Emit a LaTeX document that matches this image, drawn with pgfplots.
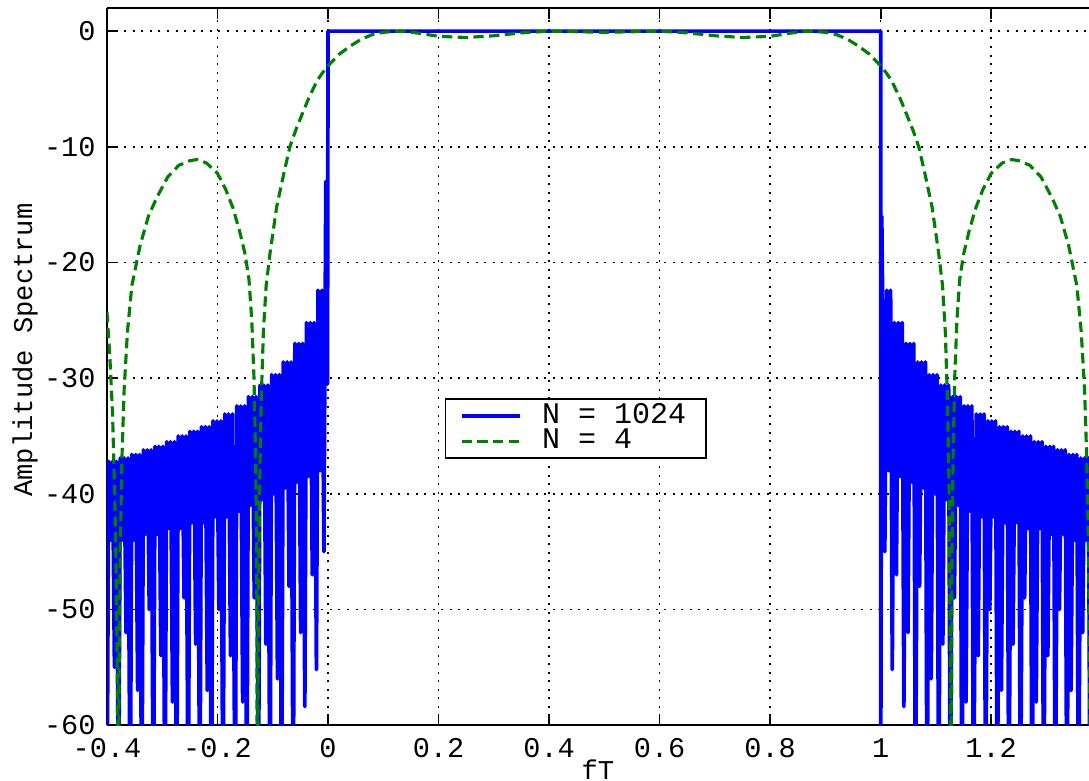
\documentclass[border=0pt]{standalone}
\usepackage{fontspec}
\setmainfont{Liberation Mono}
\usepackage{pgfplots}
\pgfplotsset{compat=1.18}
\definecolor{mblue}{rgb}{0,0,1}
\definecolor{mgreen}{rgb}{0,0.5,0}
\begin{document}
\begin{tikzpicture}
\begin{axis}[
  at={(0,0)}, anchor=south west,
  scale only axis,
  width=343.7pt, height=251pt,
  xmin=-0.4, xmax=1.377,
  ymin=-60, ymax=2,
  axis x line*=box, axis y line*=left,
  axis line style={black, line width=0.8pt},
  xtick={-0.4,-0.2,0,0.2,0.4,0.6,0.8,1,1.2},
  ytick={-60,-50,-40,-30,-20,-10,0},
  major tick length=3.8pt,
  tick style={black, line width=0.6pt},
  tick align=inside,
  grid=major,
  major grid style={black, line width=0.5pt, dash pattern=on 0.7pt off 2.3pt},
  /pgf/number format/assume math mode=true,
  ticklabel style={font=\fontsize{10}{12}\selectfont},
  xticklabel style={yshift=-1.2pt},
  yticklabel style={xshift=-0.5pt},
  xlabel={fT},
  ylabel={Amplitude Spectrum},
  xlabel style={at={(axis description cs:0.5,-0.047)}, anchor=north, inner sep=0pt, font=\fontsize{9.5}{11}\selectfont},
  ylabel style={at={(axis description cs:-0.0835,0.523)}, anchor=center, font=\fontsize{9.5}{11}\selectfont},
  legend style={at={(rel axis cs:0.344,0.456)}, anchor=north west, draw=black, line width=0.5pt,
    font=\fontsize{10.5}{11}\selectfont, inner xsep=5pt, inner ysep=1.5pt, row sep=0pt,
    column sep=5pt, nodes={inner ysep=0.2pt}},
  legend cell align=left,
  legend image code/.code={\draw[#1] (0cm,0cm) -- (0.72cm,0cm);},
]
% N = 1024
\addplot[mblue, line width=1.3pt, line join=round] coordinates {
(-0.400,-70) (-0.397,-37.2) (-0.3935,-44) (-0.390,-37.2) (-0.3865,-55) (-0.383,-37.2)
(-0.379,-70) (-0.376,-36.9) (-0.3725,-44) (-0.369,-36.9) (-0.3655,-52) (-0.362,-36.9)
(-0.358,-70) (-0.355,-36.6) (-0.3515,-44) (-0.348,-36.6) (-0.3445,-57) (-0.341,-36.6)
(-0.337,-70) (-0.334,-36.2) (-0.3305,-43.5) (-0.327,-36.2) (-0.3235,-50) (-0.320,-36.2)
(-0.316,-70) (-0.313,-35.9) (-0.3095,-43.5) (-0.306,-35.9) (-0.3025,-54) (-0.299,-35.9)
(-0.295,-70) (-0.292,-35.5) (-0.2885,-43) (-0.285,-35.5) (-0.2815,-58) (-0.278,-35.5)
(-0.274,-70) (-0.271,-35.0) (-0.2675,-43) (-0.264,-35.0) (-0.2605,-49) (-0.257,-35.0)
(-0.253,-70) (-0.250,-34.6) (-0.2465,-42.5) (-0.243,-34.6) (-0.2395,-53) (-0.236,-34.6)
(-0.232,-70) (-0.229,-34.2) (-0.2255,-42.5) (-0.222,-34.2) (-0.2185,-57) (-0.215,-34.2)
(-0.211,-70) (-0.208,-33.7) (-0.2045,-42) (-0.201,-33.7) (-0.1975,-50) (-0.194,-33.7)
(-0.190,-70) (-0.187,-33.1) (-0.1835,-42) (-0.180,-33.1) (-0.1765,-54) (-0.173,-33.1)
(-0.168,-70) (-0.165,-32.4) (-0.1615,-41.5) (-0.158,-32.4) (-0.1545,-58) (-0.151,-32.4)
(-0.147,-70) (-0.144,-31.6) (-0.1405,-41) (-0.137,-31.6) (-0.1335,-49) (-0.130,-31.6)
(-0.126,-70) (-0.123,-30.6) (-0.1195,-40.5) (-0.116,-30.6) (-0.1125,-53) (-0.109,-30.6)
(-0.105,-70) (-0.102,-29.7) (-0.0985,-40) (-0.095,-29.7) (-0.0915,-56) (-0.088,-29.7)
(-0.084,-70) (-0.081,-28.6) (-0.0775,-39.5) (-0.074,-28.6) (-0.0705,-48) (-0.067,-28.6)
(-0.063,-70) (-0.060,-27.0) (-0.0565,-39) (-0.053,-27.0) (-0.0495,-52) (-0.046,-27.0)
(-0.042,-58.4) (-0.039,-25.2) (-0.0355,-38.5) (-0.032,-25.2) (-0.0285,-47) (-0.025,-25.2)
(-0.021,-55.2) (-0.018,-22.4) (-0.0145,-38) (-0.011,-22.4) (-0.0075,-45) (-0.005,-22)
(-0.004,-13) (-0.0025,-24) (-0.001,-30.5) (0,0)
(1,0) (1,-70) (1.002,-16) (1.004,-25) (1.0075,-45) (1.011,-22.4) (1.0145,-38) (1.018,-22.4) (1.021,-55.2)
(1.025,-25.2) (1.0285,-47) (1.032,-25.2) (1.0355,-38.5) (1.039,-25.2) (1.042,-58.4)
(1.046,-27.0) (1.0495,-52) (1.053,-27.0) (1.0565,-39) (1.060,-27.0) (1.063,-70)
(1.067,-28.6) (1.0705,-48) (1.074,-28.6) (1.0775,-39.5) (1.081,-28.6) (1.084,-70)
(1.088,-29.7) (1.0915,-56) (1.095,-29.7) (1.0985,-40) (1.102,-29.7) (1.105,-70)
(1.109,-30.6) (1.1125,-53) (1.116,-30.6) (1.1195,-40.5) (1.123,-30.6) (1.126,-70)
(1.130,-31.6) (1.1335,-49) (1.137,-31.6) (1.1405,-41) (1.144,-31.6) (1.147,-70)
(1.151,-32.4) (1.1545,-58) (1.158,-32.4) (1.1615,-41.5) (1.165,-32.4) (1.168,-70)
(1.173,-33.1) (1.1765,-54) (1.180,-33.1) (1.1835,-42) (1.187,-33.1) (1.190,-70)
(1.194,-33.7) (1.1975,-50) (1.201,-33.7) (1.2045,-42) (1.208,-33.7) (1.211,-70)
(1.215,-34.2) (1.2185,-57) (1.222,-34.2) (1.2255,-42.5) (1.229,-34.2) (1.232,-70)
(1.236,-34.6) (1.2395,-53) (1.243,-34.6) (1.2465,-42.5) (1.250,-34.6) (1.253,-70)
(1.257,-35.0) (1.2605,-49) (1.264,-35.0) (1.2675,-43) (1.271,-35.0) (1.274,-70)
(1.278,-35.5) (1.2815,-58) (1.285,-35.5) (1.2885,-43) (1.292,-35.5) (1.295,-70)
(1.299,-35.9) (1.3025,-54) (1.306,-35.9) (1.3095,-43.5) (1.313,-35.9) (1.316,-70)
(1.320,-36.2) (1.3235,-50) (1.327,-36.2) (1.3305,-43.5) (1.334,-36.2) (1.337,-70)
(1.341,-36.6) (1.3445,-57) (1.348,-36.6) (1.3515,-44) (1.355,-36.6) (1.358,-70)
(1.362,-36.9) (1.3655,-52) (1.369,-36.9) (1.3725,-44) (1.376,-36.9) (1.379,-70)
(1.383,-37.2) (1.3865,-55)
};
% N = 4
\addplot[mgreen, line width=1.1pt, dash pattern=on 3.6pt off 1.9pt] coordinates {
(-0.400,-24.3) (-0.395,-28) (-0.390,-33) (-0.386,-40) (-0.383,-48) (-0.381,-58) (-0.380,-70)
(-0.378,-55) (-0.376,-45) (-0.373,-37) (-0.369,-31) (-0.363,-26) (-0.355,-22) (-0.34,-18.5)
(-0.325,-16) (-0.31,-14.4) (-0.29,-12.6) (-0.27,-11.6) (-0.25,-11.2) (-0.237,-11.1) (-0.22,-11.4)
(-0.2,-12.3) (-0.185,-13.7) (-0.172,-15.3) (-0.16,-17.3) (-0.15,-19.3) (-0.143,-21.5) (-0.138,-25)
(-0.134,-30) (-0.131,-37) (-0.129,-46) (-0.128,-70) (-0.126,-52) (-0.124,-40) (-0.121,-32)
(-0.117,-26) (-0.112,-22) (-0.105,-19.2) (-0.093,-15.2) (-0.08,-12.3) (-0.069,-10) (-0.058,-8.5)
(-0.047,-7.2) (-0.035,-5.8) (-0.02,-4.3) (-0.01,-3.6) (0,-3.0) (0.02,-2.0) (0.04,-1.3) (0.06,-0.7)
(0.08,-0.3) (0.10,-0.1) (0.13,0) (0.16,-0.15) (0.2,-0.45) (0.25,-0.55) (0.3,-0.4) (0.35,-0.15)
(0.4,0) (0.45,-0.05) (0.5,-0.1) (0.55,-0.05) (0.6,0) (0.65,-0.15) (0.7,-0.4) (0.75,-0.55)
(0.8,-0.45) (0.84,-0.15) (0.87,0) (0.9,-0.1) (0.92,-0.3) (0.94,-0.7) (0.96,-1.3) (0.98,-2.0)
(1.0,-3.0) (1.01,-3.6) (1.02,-4.3) (1.035,-5.8) (1.047,-7.2) (1.058,-8.5) (1.069,-10) (1.08,-12.3)
(1.093,-15.2) (1.105,-19.2) (1.112,-22) (1.117,-26) (1.121,-32) (1.124,-40) (1.126,-52) (1.128,-70)
(1.129,-46) (1.131,-37) (1.134,-30) (1.138,-25) (1.143,-21.5) (1.15,-19.3) (1.16,-17.3) (1.172,-15.3)
(1.185,-13.7) (1.2,-12.3) (1.22,-11.4) (1.237,-11.1) (1.25,-11.2) (1.27,-11.6) (1.29,-12.6)
(1.31,-14.4) (1.325,-16) (1.34,-18.5) (1.355,-22) (1.363,-26) (1.369,-31) (1.373,-37) (1.376,-45)
(1.378,-55) (1.380,-70)
};
\legend{N = 1024, N = 4}
\end{axis}
\pgfresetboundingbox
\path[use as bounding box] (-37.45pt,-19.25pt) rectangle (343.7pt,253.8pt);
\end{tikzpicture}
\end{document}
